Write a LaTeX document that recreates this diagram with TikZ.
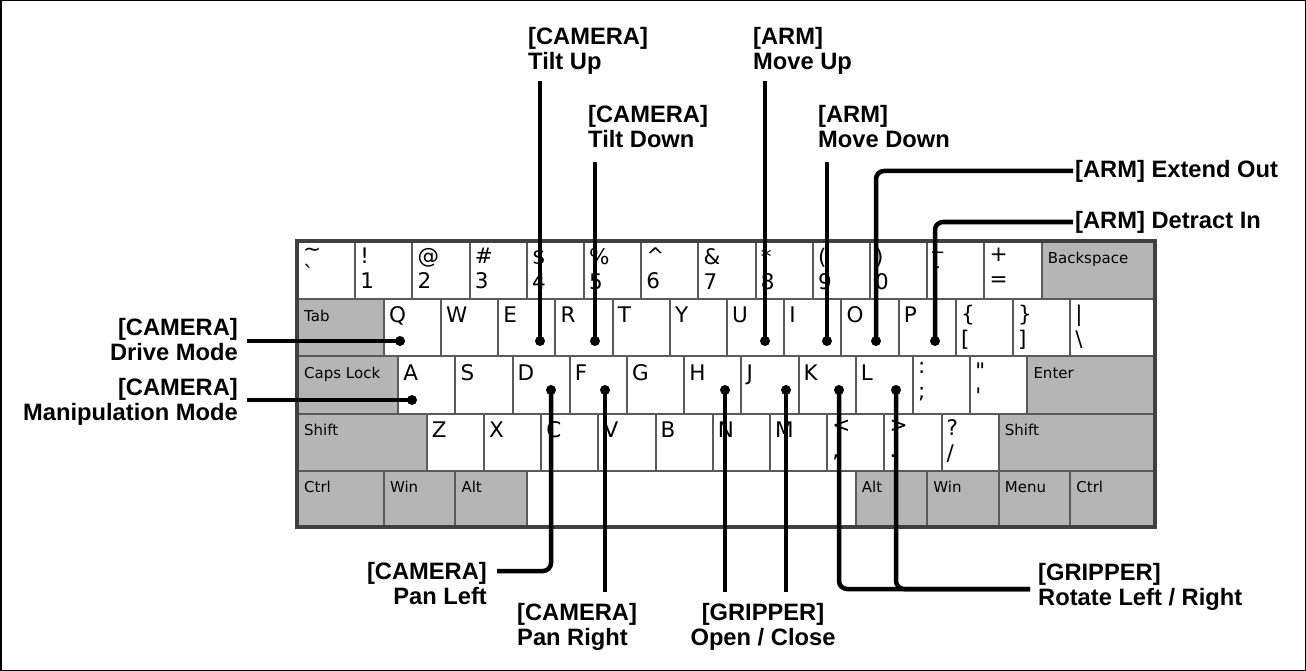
\documentclass[tikz,border=0pt]{standalone}
\usepackage{fontspec}
\newfontfamily\keyfont{DejaVu Sans}
\newfontfamily\labelfont{Liberation Sans}
\usepackage{tikz}
\usetikzlibrary{calc, positioning}
\definecolor{keyline}{RGB}{90,90,90}
\definecolor{keygray}{RGB}{181,181,181}
\definecolor{caseline}{RGB}{64,64,64}
\tikzset{
  keycap/.style={
    rectangle, draw=keyline, line width=2pt, fill=white,
    inner sep=0pt, minimum width=57.2pt, minimum height=57.2pt,
    anchor=north west
  },
  modcap/.style={keycap, fill=keygray},
  keytxt/.style={
    anchor=north west, inner sep=0pt, align=left,
    font=\keyfont\fontsize{21.5}{25}\selectfont,
    execute at begin node=\strut
  },
  modtxt/.style={
    anchor=north west, inner sep=0pt,
    font=\keyfont\fontsize{15}{18}\selectfont,
    execute at begin node=\strut
  },
  callout/.style={
    inner sep=0pt, font=\labelfont\bfseries\fontsize{23.7}{25}\selectfont
  },
  wire/.style={line width=4.5pt, rounded corners=8pt},
  keydot/.style={circle, fill=black, inner sep=0pt, minimum size=10pt},
}

\begin{document}
\begin{tikzpicture}[x=1pt, y=-1pt]
  \useasboundingbox (0,0) rectangle (1306,671);
  \draw[line width=1.5pt] (0.75,0.75) rectangle (1305.25,670.25);

  % number row
  \foreach \up/\dn [count=\i from 0] in {\textasciitilde/\textasciigrave, !/1, @/2, \#/3, \$/4, \%/5,
      \textasciicircum/6, \&/7, */8, {(}/9, {)}/0, \_/-, +/=} {
    \node[keycap] (n\i) at ({297+57.2*\i},241) {};
    \node[keytxt] (nt\i) at ([shift={(6,7)}]n\i.north west) {\up\\\dn};
  }
  \node[modcap, minimum width=114.4pt] (bksp) at (1040.6,241) {};
  \node[modtxt] (bkspt) at ([shift={(7,10)}]bksp.north west) {Backspace};

  % letter rows
  \node[modcap, minimum width=85.8pt] (tab) at (297,298.2) {};
  \node[modtxt] (tabt) at ([shift={(7,10)}]tab.north west) {Tab};
  \foreach \c [count=\i from 0] in {Q,W,E,R,T,Y,U,I,O,P} {
    \node[keycap] (k\c) at ({382.8+57.2*\i},298.2) {};
    \node[keytxt] (t\c) at ([shift={(6,7)}]k\c.north west) {\c};
  }
  \node[modcap, minimum width=100.1pt] (caps) at (297,355.4) {};
  \node[modtxt] (capst) at ([shift={(7,10)}]caps.north west) {Caps Lock};
  \foreach \c [count=\i from 0] in {A,S,D,F,G,H,J,K,L} {
    \node[keycap] (k\c) at ({397.1+57.2*\i},355.4) {};
    \node[keytxt] (t\c) at ([shift={(6,7)}]k\c.north west) {\c};
  }
  \node[modcap, minimum width=128.7pt] (enter) at (1026.3,355.4) {};
  \node[modtxt] (entert) at ([shift={(7,10)}]enter.north west) {Enter};
  \node[modcap, minimum width=128.7pt] (lshift) at (297,412.6) {};
  \node[modtxt] (lshiftt) at ([shift={(7,10)}]lshift.north west) {Shift};
  \foreach \c [count=\i from 0] in {Z,X,C,V,B,N,M} {
    \node[keycap] (k\c) at ({425.7+57.2*\i},412.6) {};
    \node[keytxt] (t\c) at ([shift={(6,7)}]k\c.north west) {\c};
  }
  \node[modcap, minimum width=157.3pt] (rshift) at (997.7,412.6) {};
  \node[modtxt] (rshiftt) at ([shift={(7,10)}]rshift.north west) {Shift};

  % punctuation keys
  \foreach \x/\y/\w/\up/\dn [count=\i] in {954.8/298.2/57.2pt/\{/[, 1012/298.2/57.2pt/\}/],
      1069.2/298.2/85.8pt/\textbar/\textbackslash, 911.9/355.4/57.2pt/:/;,
      969.1/355.4/57.2pt/\textquotedbl/\textquotesingle, 826.1/412.6/57.2pt/</{,},
      883.3/412.6/57.2pt/>/., 940.5/412.6/57.2pt/?/{/}} {
    \node[keycap, minimum width=\w] (p\i) at (\x,\y) {};
    \node[keytxt] (pt\i) at ([shift={(6,7)}]p\i.north west) {\up\\\dn};
  }

  % bottom row
  \foreach \x/\w/\t [count=\i] in {297/85.8pt/Ctrl, 382.8/71.5pt/Win, 454.3/71.5pt/Alt,
      854.7/71.5pt/Alt, 926.2/71.5pt/Win, 997.7/71.5pt/Menu, 1069.2/85.8pt/Ctrl} {
    \node[modcap, minimum width=\w] (m\i) at (\x,469.8) {};
    \node[modtxt] (mt\i) at ([shift={(7,10)}]m\i.north west) {\t};
  }
  \node[keycap, minimum width=328.9pt] (space) at (525.8,469.8) {};

  \draw[caseline, line width=4pt] (297,241) rectangle (1155,527);

  % key dots
  \node[keydot] (dQ) at (400,341) {};
  \node[keydot] (dE) at (540,341) {};
  \node[keydot] (dR) at (595,341) {};
  \node[keydot] (dU) at (765,341) {};
  \node[keydot] (dI) at (827,341) {};
  \node[keydot] (dO) at (876,341) {};
  \node[keydot] (dP) at (935,341) {};
  \node[keydot] (dA) at (412,400) {};
  \node[keydot] (dD) at (551,390) {};
  \node[keydot] (dF) at (605,390) {};
  \node[keydot] (dH) at (725,390) {};
  \node[keydot] (dJ) at (786,390) {};
  \node[keydot] (dK) at (839,390) {};
  \node[keydot] (dL) at (896,390) {};

  % callouts
  \node[callout, anchor=north west, align=left]  (tiltup)    at (528,27)   {[CAMERA]\\Tilt Up};
  \node[callout, anchor=north west, align=left]  (tiltdown)  at (588,105)  {[CAMERA]\\Tilt Down};
  \node[callout, anchor=north west, align=left]  (moveup)    at (753,27)   {[ARM]\\Move Up};
  \node[callout, anchor=north west, align=left]  (movedown)  at (818,105)  {[ARM]\\Move Down};
  \node[callout, anchor=west]                    (extend)    at (1075,171) {[ARM] Extend Out};
  \node[callout, anchor=west]                    (detract)   at (1075,222) {[ARM] Detract In};
  \node[callout, anchor=north east, align=right] (drive)     at (238,318)  {[CAMERA]\\Drive Mode};
  \node[callout, anchor=north east, align=right] (manip)     at (238,378)  {[CAMERA]\\Manipulation Mode};
  \node[callout, anchor=north east, align=right] (panleft)   at (487,562)  {[CAMERA]\\Pan Left};
  \node[callout, anchor=north west, align=left]  (panright)  at (517,603)  {[CAMERA]\\Pan Right};
  \node[callout, anchor=north, align=center]     (openclose) at (763,603)  {[GRIPPER]\\Open / Close};
  \node[callout, anchor=north west, align=left]  (rotate)    at (1038,563) {[GRIPPER]\\Rotate Left / Right};

  \draw[wire, shorten >=7pt]  (dE.center) -- (dE.center |- tiltup.south);
  \draw[wire, shorten >=14pt] (dR.center) -- (dR.center |- tiltdown.south);
  \draw[wire, shorten >=7pt]  (dU.center) -- (dU.center |- moveup.south);
  \draw[wire, shorten >=14pt] (dI.center) -- (dI.center |- movedown.south);
  \draw[wire] (dO.center) |- ([xshift=-2pt]extend.west);
  \draw[wire] (dP.center) |- ([xshift=-2pt]detract.west);
  \draw[wire] ([xshift=9pt]drive.east |- dQ) -- (dQ.center);
  \draw[wire] ([xshift=9pt]manip.east |- dA) -- (dA.center);
  \draw[wire] (dD.center) |- ($(panleft.north east)+(10,9)$);
  \draw[wire, shorten >=11pt] (dF.center) -- (dF.center |- panright.north);
  \draw[wire, shorten >=11pt] (dH.center) -- (dH.center |- openclose.north);
  \draw[wire, shorten >=11pt] (dJ.center) -- (dJ.center |- openclose.north);
  \draw[wire] (dK.center) |- ($(rotate.north west)+(-8,26)$);
  \draw[wire] (dL.center) |- ($(rotate.north west)+(-8,26)$);
\end{tikzpicture}
\end{document}
